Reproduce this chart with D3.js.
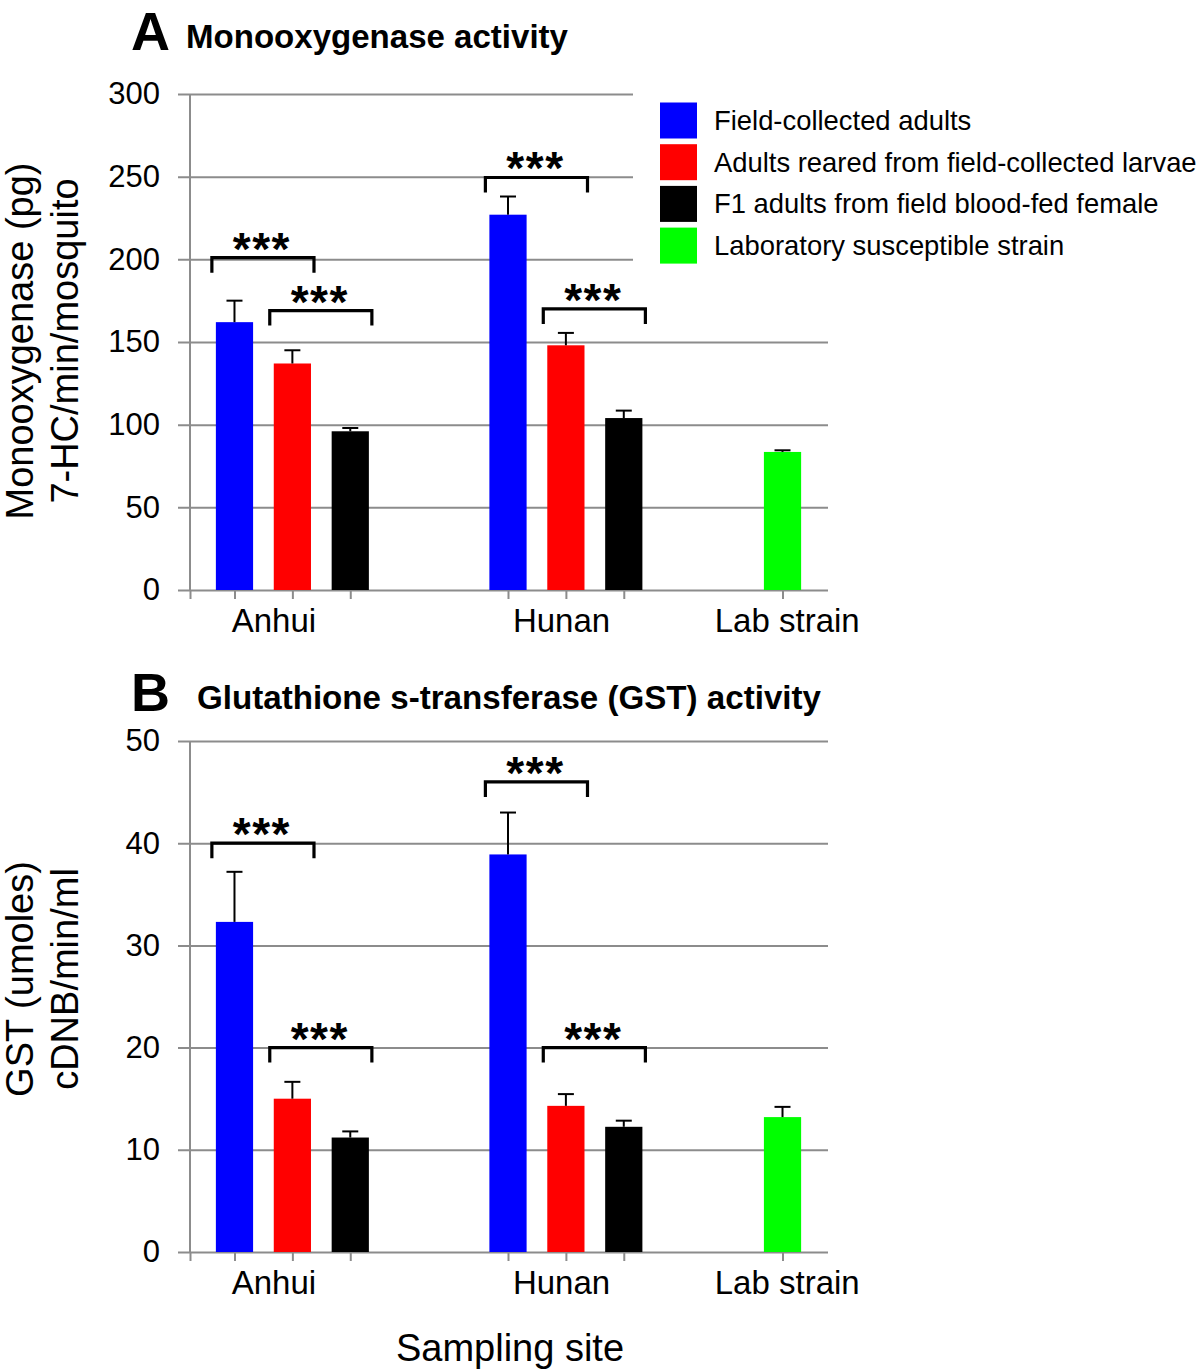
<!DOCTYPE html>
<html><head><meta charset="utf-8">
<script src="https://cdn.jsdelivr.net/npm/d3@7"></script>
<style>
body{margin:0;background:#fff}
svg{display:block;font-family:"Liberation Sans",Arial,Helvetica,sans-serif}
</style>
</head><body>
<svg id="chart" width="1200" height="1371"></svg>
<script>
// ---------- DATA ----------
const categories = ["Anhui", "Hunan", "Lab strain"];
const seriesNames = [
  "Field-collected adults",
  "Adults reared from field-collected larvae",
  "F1 adults from field blood-fed female",
  "Laboratory susceptible strain"
];
// series index used by each bar in each category
const anhuiSeries = [0, 1, 2];
const hunanSeries = [0, 1, 2];
const labSeries = [3];

// Panel A: Monooxygenase (pg 7-HC/min/mosquito)
const monoAnhui = [162, 137, 96];
const monoAnhuiSE = [13, 8, 2];
const monoHunan = [227, 148, 104];
const monoHunanSE = [11, 7.5, 4.5];
const monoLab = [83.5];
const monoLabSE = [1];
const monoTicks = [0, 50, 100, 150, 200, 250, 300];
// significance brackets: [category, fromBar, toBar, level]
const monoBrackets = [["Anhui", 0, 1, 201], ["Anhui", 1, 2, 169], ["Hunan", 0, 1, 249.5], ["Hunan", 1, 2, 170]];

// Panel B: GST (umoles cDNB/min/ml)
const gstAnhui = [32.3, 15.0, 11.2];
const gstAnhuiSE = [4.9, 1.65, 0.6];
const gstHunan = [38.9, 14.3, 12.25];
const gstHunanSE = [4.1, 1.15, 0.6];
const gstLab = [13.2];
const gstLabSE = [1.0];
const gstTicks = [0, 10, 20, 30, 40, 50];
const gstBrackets = [["Anhui", 0, 1, 40], ["Anhui", 1, 2, 20], ["Hunan", 0, 1, 46], ["Hunan", 1, 2, 20]];

const sigLabel = "***";

// ---------- STYLE / LAYOUT ----------
const colors = ["#0000ff", "#ff0000", "#000000", "#00ff00"];
const gridColor = "#8c8c8c";
const svg = d3.select("#chart");

const plotLeft = 190, plotRight = 828, gridLeft = 178;
const x = d3.scaleLinear().domain([0, 10.8]).range([plotLeft, plotRight]);
const groupStart = {"Anhui": 0.753, "Hunan": 5.383, "Lab strain": 10.03};
const groupLabelPos = {"Anhui": 1.42, "Hunan": 6.29, "Lab strain": 10.11};
const barStep = 0.98, barW = 0.63;

function buildRows(vals) {
  const rows = [];
  categories.forEach((c, ci) => {
    const ser = vals.series[ci], m = vals.means[ci], se = vals.errs[ci];
    m.forEach((v, i) => rows.push({cat: c, idx: i, series: ser[i], value: v, err: se[i],
      cx: groupStart[c] + i * barStep}));
  });
  return rows;
}

function drawPanel(cfg) {
  const y = d3.scaleLinear().domain([0, cfg.ticks[cfg.ticks.length - 1]]).range([cfg.bottom, cfg.top]);
  const g = svg.append("g");

  // gridlines + y labels
  const yAxis = d3.axisLeft(y).tickValues(cfg.ticks).tickSizeInner(-(plotRight - gridLeft))
    .tickSizeOuter(0).tickPadding(18).tickFormat(d3.format("d"));
  const ya = g.append("g").attr("transform", `translate(${gridLeft},0)`).call(yAxis);
  ya.select(".domain").remove();
  ya.selectAll(".tick line").attr("stroke", gridColor).attr("stroke-width", 2);
  ya.selectAll(".tick text").attr("font-size", 31).attr("fill", "#000")
    .attr("font-family", '"Liberation Sans",Arial,sans-serif');

  const rows = buildRows(cfg.data);

  // x ticks at bar centers
  const xAxis = d3.axisBottom(x).tickValues([0].concat(rows.map(r => r.cx)))
    .tickSizeInner(9).tickSizeOuter(0).tickFormat("");
  const xa = g.append("g").attr("transform", `translate(0,${cfg.bottom})`).call(xAxis);
  xa.select(".domain").remove();
  xa.selectAll(".tick line").attr("stroke", gridColor).attr("stroke-width", 2);

  // y axis line
  g.append("line").attr("x1", plotLeft).attr("x2", plotLeft)
    .attr("y1", y(cfg.ticks[cfg.ticks.length - 1])).attr("y2", cfg.bottom)
    .attr("stroke", gridColor).attr("stroke-width", 2);

  if (cfg.legendMask) {
    g.append("rect").attr("x", 633).attr("y", 86).attr("width", 567).attr("height", 182).attr("fill", "#fff");
  }

  // bars
  g.selectAll("rect.bar").data(rows).join("rect").attr("class", "bar")
    .attr("x", d => x(d.cx - barW / 2)).attr("width", x(barW) - x(0))
    .attr("y", d => y(d.value)).attr("height", d => y(0) - y(d.value))
    .attr("fill", d => colors[d.series]);

  // error bars (upper only)
  const capHalf = 8;
  const eb = g.selectAll("g.err").data(rows).join("g").attr("class", "err");
  eb.append("line").attr("x1", d => x(d.cx)).attr("x2", d => x(d.cx))
    .attr("y1", d => y(d.value)).attr("y2", d => y(d.value + d.err))
    .attr("stroke", "#000").attr("stroke-width", 2);
  eb.append("line").attr("x1", d => x(d.cx) - capHalf).attr("x2", d => x(d.cx) + capHalf)
    .attr("y1", d => y(d.value + d.err)).attr("y2", d => y(d.value + d.err))
    .attr("stroke", "#000").attr("stroke-width", 2);

  // significance brackets
  const legLen = 15;
  cfg.brackets.forEach(b => {
    const [cat, a, bb, lvl] = b;
    const xl = x(groupStart[cat] + a * barStep - barW / 2) - 4;
    const xr = x(groupStart[cat] + bb * barStep + barW / 2) + 3;
    const yy = y(lvl);
    g.append("path")
      .attr("d", `M${xl},${yy + legLen}V${yy}H${xr}V${yy + legLen}`)
      .attr("fill", "none").attr("stroke", "#000").attr("stroke-width", 3.2);
    g.append("text").attr("x", (xl + xr) / 2 - 1).attr("y", yy + 7)
      .attr("text-anchor", "middle").attr("font-size", 46).attr("font-weight", "bold")
      .attr("letter-spacing", 1.5).text(sigLabel);
  });

  // category labels
  g.selectAll("text.cat").data(categories).join("text").attr("class", "cat")
    .attr("x", d => x(groupLabelPos[d])).attr("y", cfg.bottom + 42)
    .attr("text-anchor", "middle").attr("font-size", 33).text(d => d);

  // y title (two lines)
  const midY = cfg.titleMid;
  cfg.yTitle.forEach((t, i) => {
    g.append("text").attr("transform", `translate(${[33, 78][i]},${midY}) rotate(-90)`)
      .attr("text-anchor", "middle").attr("font-size", 38).text(t);
  });

  // panel heading
  g.append("text").attr("x", 131).attr("y", cfg.headY).attr("font-size", 54)
    .attr("font-weight", "bold").text(cfg.letter);
  g.append("text").attr("x", cfg.headX).attr("y", cfg.headY - 2).attr("font-size", 33)
    .attr("font-weight", "bold").attr("textLength", cfg.headLen).attr("lengthAdjust", "spacingAndGlyphs")
    .text(cfg.heading);
}

drawPanel({
  top: 94, bottom: 590, ticks: monoTicks,
  data: {series: [anhuiSeries, hunanSeries, labSeries], means: [monoAnhui, monoHunan, monoLab], errs: [monoAnhuiSE, monoHunanSE, monoLabSE]},
  brackets: monoBrackets, legendMask: true,
  yTitle: ["Monooxygenase (pg)", "7-HC/min/mosquito"], titleMid: 341,
  letter: "A", heading: "Monooxygenase activity", headX: 186, headY: 50, headLen: 382
});

drawPanel({
  top: 741, bottom: 1252, ticks: gstTicks,
  data: {series: [anhuiSeries, hunanSeries, labSeries], means: [gstAnhui, gstHunan, gstLab], errs: [gstAnhuiSE, gstHunanSE, gstLabSE]},
  brackets: gstBrackets, legendMask: false,
  yTitle: ["GST (umoles)", "cDNB/min/ml"], titleMid: 979,
  letter: "B", heading: "Glutathione s-transferase (GST) activity", headX: 197, headY: 711, headLen: 624
});

// x axis title
svg.append("text").attr("x", 510).attr("y", 1361).attr("text-anchor", "middle")
  .attr("font-size", 38).text("Sampling site");

// legend
const leg = svg.append("g");
const legRows = leg.selectAll("g").data(seriesNames).join("g")
  .attr("transform", (d, i) => `translate(660,${120.5 + i * 41.7})`);
legRows.append("rect").attr("x", 0).attr("y", -18).attr("width", 37).attr("height", 36)
  .attr("fill", (d, i) => colors[i]);
legRows.append("text").attr("x", 54).attr("y", 0).attr("dy", "0.35em")
  .attr("font-size", 27.4).text(d => d);
</script>
</body></html>
